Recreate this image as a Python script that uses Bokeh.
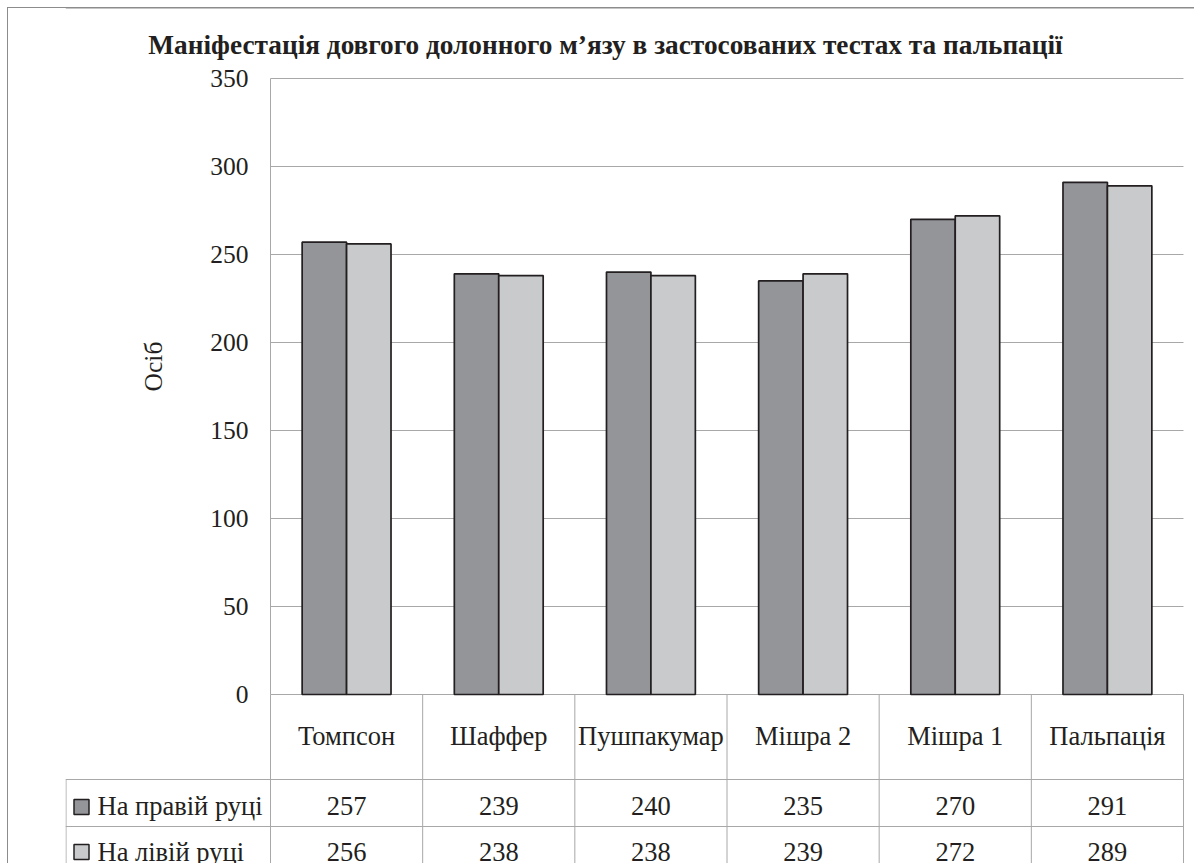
import math
import numpy as np
from bokeh.plotting import figure
from bokeh.models import ColumnDataSource, Range1d, FixedTicker
from bokeh.core.properties import value
from bokeh.embed import file_html
from bokeh.resources import INLINE

# ---- data ----
categories = ["Томпсон", "Шаффер", "Пушпакумар", "Мішра 2", "Мішра 1", "Пальпація"]
right_hand = [257, 239, 240, 235, 270, 291]
left_hand = [256, 238, 238, 239, 272, 289]
series_names = ["На правій руці", "На лівій руці"]
y_ticks = [0, 50, 100, 150, 200, 250, 300, 350]
title_text = "Маніфестація довгого долонного м’язу в застосованих тестах та пальпації"
y_label = "Осіб"

# ---- style ----
DARK = "#939598"
LIGHT = "#c9cacc"
EDGE = "#231f20"
GRID = "#a8a8a8"
BORDER = "#8c8c8c"
TXT = "#231f20"
FONT = "Liberation Serif"

W, H = 1194, 863
FRAME_LEFT = 65
# layout geometry (pixels of the picture)
X0_PX, X6_PX = 270.0, 1183.0          # plot area left / right
Y0_PX, PX_PER_UNIT = 694.0, 1.76      # value 0 and vertical scale
U = (X6_PX - X0_PX) / len(categories)


def px2x(px):
    return (px - X0_PX) / U


def py2y(py):
    return (Y0_PX - py) / PX_PER_UNIT


n = len(categories)
xc = np.arange(n) + 0.5
src = ColumnDataSource(dict(
    xc=xc, x_r=xc - 0.146, x_l=xc + 0.146,
    cat=categories, right=right_hand, left=left_hand,
    right_s=[str(v) for v in right_hand], left_s=[str(v) for v in left_hand],
))

p = figure(width=W, height=H,
           x_range=Range1d(px2x(FRAME_LEFT), px2x(W)),
           y_range=Range1d(py2y(H), py2y(0)),
           x_axis_location=None,
           output_backend="svg", toolbar_location=None,
           min_border_left=FRAME_LEFT, min_border_right=0,
           min_border_top=0, min_border_bottom=0)
p.outline_line_color = None
p.background_fill_color = None
p.border_fill_color = None
# outer chart border (left and top edges) drawn behind the transparent canvas
p.styles = {
    "background-color": "white",
    "background-image": f"linear-gradient({BORDER}, {BORDER}), linear-gradient({BORDER}, {BORDER})",
    "background-size": "1px 100%, 100% 1px",
    "background-position": "7px 7px, 7px 7px",
    "background-repeat": "no-repeat",
}
p.xgrid.visible = False
p.ygrid.visible = False

# y axis drawn at x = 0 (left edge of the plot area)
ax = p.yaxis[0]
ax.fixed_location = 0
ax.bounds = (0, y_ticks[-1])
ax.ticker = FixedTicker(ticks=y_ticks)
ax.major_label_text_font = FONT
ax.major_label_text_font_size = "25.5px"
ax.major_label_text_color = TXT
ax.major_tick_out = 0
ax.major_tick_in = 0
ax.minor_tick_out = 0
ax.minor_tick_in = 0
ax.axis_line_color = GRID
ax.major_label_standoff = 22

# top border (inside the frame)
p.segment(x0=[px2x(FRAME_LEFT)], x1=[px2x(W)], y0=[py2y(7.5)], y1=[py2y(7.5)],
          line_color=BORDER, line_width=1)

# horizontal grid lines across the plot area
p.segment(x0=0, x1=n, y0=y_ticks, y1=y_ticks, line_color=GRID, line_width=1)

# bars
p.vbar(x="x_r", top="right", bottom=0, width=0.292, source=src,
       fill_color=DARK, line_color=EDGE, line_width=1.7)
p.vbar(x="x_l", top="left", bottom=0, width=0.292, source=src,
       fill_color=LIGHT, line_color=EDGE, line_width=1.7)

# data table below the plot
ROW1, ROW2 = py2y(779), py2y(826)
bottom = py2y(H)
bounds_x = np.arange(n + 1)
p.segment(x0=bounds_x, x1=bounds_x, y0=0, y1=bottom, line_color=GRID, line_width=1)
p.segment(x0=[px2x(FRAME_LEFT + 0.5)], x1=[px2x(FRAME_LEFT + 0.5)], y0=[ROW1], y1=[bottom],
          line_color=GRID, line_width=1)
p.segment(x0=px2x(FRAME_LEFT), x1=n, y0=[ROW1, ROW2], y1=[ROW1, ROW2],
          line_color=GRID, line_width=1)

TFS = "26.5px"
p.text(x="xc", y=py2y(735), text="cat", source=src, text_align="center",
       text_baseline="middle", text_font=value(FONT), text_font_size=TFS, text_color=TXT)
p.text(x="xc", y=py2y(805), text="right_s", source=src, text_align="center",
       text_baseline="middle", text_font=value(FONT), text_font_size=TFS, text_color=TXT)
p.text(x="xc", y=py2y(851), text="left_s", source=src, text_align="center",
       text_baseline="middle", text_font=value(FONT), text_font_size=TFS, text_color=TXT)

# legend column of the table
sw_top = [py2y(799), py2y(844)]
sw_bot = [py2y(814), py2y(859)]
p.quad(left=px2x(73.5), right=px2x(88.5), top=sw_top, bottom=sw_bot,
       fill_color=[DARK, LIGHT], line_color=EDGE, line_width=1.5)
p.text(x=px2x(97), y=[py2y(805), py2y(851)], text=series_names, text_align="left",
       text_baseline="middle", text_font=value(FONT), text_font_size="26.5px",
       text_color=TXT)

# title and y-axis label
p.text(x=[px2x(605)], y=[py2y(44)], text=[title_text], text_align="center",
       text_baseline="middle", text_font=value(FONT), text_font_style="bold",
       text_font_size="27.3px", text_color=TXT)
p.text(x=[px2x(153)], y=[py2y(366)], text=[y_label], angle=math.pi / 2,
       text_align="center", text_baseline="middle", text_font=value(FONT),
       text_font_size="25.5px", text_color=TXT)

open("out.html", "w").write(file_html(p, INLINE))
